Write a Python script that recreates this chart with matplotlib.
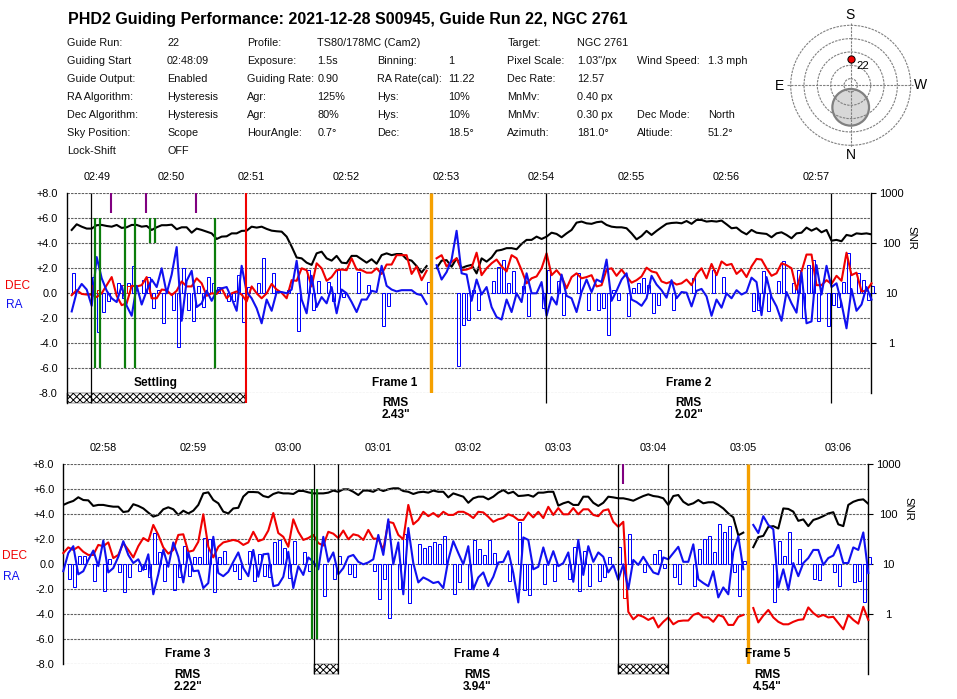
import numpy as np
import matplotlib
matplotlib.use("Agg")
import matplotlib.pyplot as plt
from matplotlib.patches import Circle, Rectangle

plt.rcParams["font.family"] = ["Liberation Sans", "DejaVu Sans"]
plt.rcParams["hatch.linewidth"] = 0.7

W, H = 957, 699
nan = float("nan")

TITLE = "PHD2 Guiding Performance: 2021-12-28 S00945, Guide Run 22, NGC 2761"

# header table, (column, text) per row
HEADER_ROWS = [
    [(0, "Guide Run:"), (1, "22"), (2, "Profile:"), (3, "TS80/178MC (Cam2)"), (6, "Target:"), (7, "NGC 2761")],
    [(0, "Guiding Start"), (1, "02:48:09"), (2, "Exposure:"), (3, "1.5s"), (4, "Binning:"), (5, "1"),
     (6, "Pixel Scale:"), (7, '1.03"/px'), (8, "Wind Speed:"), (9, "1.3 mph")],
    [(0, "Guide Output:"), (1, "Enabled"), (2, "Guiding Rate:"), (3, "0.90"), (4, "RA Rate(cal):"), (5, "11.22"),
     (6, "Dec Rate:"), (7, "12.57")],
    [(0, "RA Algorithm:"), (1, "Hysteresis"), (2, "Agr:"), (3, "125%"), (4, "Hys:"), (5, "10%"),
     (6, "MnMv:"), (7, "0.40 px")],
    [(0, "Dec Algorithm:"), (1, "Hysteresis"), (2, "Agr:"), (3, "80%"), (4, "Hys:"), (5, "10%"),
     (6, "MnMv:"), (7, "0.30 px"), (8, "Dec Mode:"), (9, "North")],
    [(0, "Sky Position:"), (1, "Scope"), (2, "HourAngle:"), (3, "0.7°"), (4, "Dec:"), (5, "18.5°"),
     (6, "Azimuth:"), (7, "181.0°"), (8, "Altiude:"), (9, "51.2°")],
    [(0, "Lock-Shift"), (1, "OFF")],
]

# sky position
AZIMUTH = 181.0
ALTITUDE = 51.2
RING_DEG = [10, 30, 50, 70, 90]
MOON_ZD = 33
MOON_RADIUS_DEG = 27.5

# top panel, one value per sample
ra_1 = [
    -1.45, 0.1, 0.75, 0.3, -1.0, 2.9, 1.2, 0.2, -0.4, -0.7,
    0.6, -1.0, -1.8, 0.6, -0.9, 0.2, 1.1, 0.5, 2.0, 0.0,
    1.5, 3.7, -2.2, 1.0, 1.8, -1.1, -0.8, 0.2, -0.6, 0.2,
    0.4, 0.5, -0.4, -1.4, 2.2, 0.1, -0.4, -1.2, -2.4, -0.5,
    -1.4, 0.1, 0.1, 0.0, 0.3, 2.6, -0.5, -1.6, 1.4, -1.1,
    -0.3, -0.8, 0.5, -1.6, 0.3, 0.0, -0.7, -1.5, -0.5, -0.5,
    0.2, 0.1, 2.2, 0.6, 0.3, 0.15, 0.25, 0.25, 0.25, -0.05,
    -0.15, -0.85, nan,
    2.25, 1.1, 1.7, 2.7, 5.0, 1.6, 1.5, -0.6, 1.1, -0.1,
    0.5, -1.1, -1.9, -2.1, -0.5, -1.5, 0.0, -0.7, 1.6, 0.0,
    0.0, 0.9, -1.8, -0.3, -0.9, 1.5, -0.2, -0.4, -1.5, 0.1,
    1.1, 0.1, 1.1, 0.9, 2.7, -0.6, 0.2, 1.1, 1.6, -0.5,
    -0.7,
    -1.0, -0.4, 1.4, 0.7, 0.25, -0.35, 1.05, -0.4, 0.1, 0.05,
    -1.05, 0.2, 0.35, -0.25, -1.8, -0.5, -1.15, 0.0, -0.4, 0.25,
    -0.1, 0.1, 1.25, 0.9, -1.75, 1.3, -0.3, -1.05, -2.2, 0.1,
    -0.8, -1.55, 1.65, -2.4, -2.25, 2.25, -0.1, 2.2, 0.5, 0.8,
    -0.8, -2.8, 0.35, -1.4, -0.9, 0.5, -0.5,
]
dec_1 = [
    -0.15, 0.25, -0.05, -0.1, -0.1, -0.3, 0.0, 0.65, 1.3, -0.2,
    -0.95, -0.8, 0.6, 0.55, 0.65, 1.3, -0.4, -0.4, 0.3, 0.25,
    -0.15, 0.2, 0.95, 0.55, 0.55, 1.2, 0.8, -0.2, 0.0, -0.05,
    0.4, -0.4, 0.0, 0.15, -0.1, -0.65, 0.55, 0.0, -0.4, 0.0,
    0.75, 0.3, 0.05, -0.4, 1.05, 1.0, 2.0, 1.85, 0.55, 2.4,
    2.0, 1.0, 1.3, 1.85, 1.9, 1.85, 2.8, 1.9, 1.85, 1.65,
    1.65, 2.0, 1.55, 2.3, 2.3, 3.05, 3.05, 3.05, 1.55, 2.15,
    1.05, 1.8, nan,
    2.8, 3.05, 2.15, 2.5, 2.8, 1.85, 1.9, 2.05, 3.25, 1.45,
    2.0, 2.4, 2.7, 2.15, 1.75, 3.05, 2.8, 1.85, 0.8, 1.2,
    1.35, 2.0, 3.2, 1.45, 1.85, 1.35, 0.4, 1.3, 1.6, 1.2,
    1.3, 1.45, 0.55, 0.65, 1.9, 2.0, 1.4, 1.9, 1.35, 0.85,
    1.05,
    1.35, 2.05, 1.75, 1.65, 0.95, 0.8, 0.95, 0.7, 0.8, 1.1,
    0.65, 1.55, 2.0, 1.2, 2.35, 1.45, 2.55, 2.25, 2.35, 1.55,
    1.9, 1.3, 2.15, 2.75, 2.7, 2.0, 1.4, 1.6, 2.4, 2.25,
    2.0, 0.3, 1.75, 3.1, 3.1, 0.65, 0.65, 1.05, 0.75, 1.4,
    1.0, 3.25, 1.45, 1.65, 0.15, 0.2, 0.8,
]
snr_1 = [
    185, 240, 215, 197, 197, 230, 233, 222, 215, 233,
    203, 209, 233, 233, 215, 222, 185, 209, 230, 230,
    236, 191, 209, 209, 163, 197, 185, 171, 158, 122,
    136, 138, 158, 158, 177, 179, 215, 206, 215, 194,
    179, 174, 171, 136, 86, 52, 50, 41, 37, 63,
    68, 50, 45, 56, 41, 40, 56, 56, 48, 41,
    48, 39, 58, 63, 58, 61, 61, 48, 45, 35,
    26, 35, nan,
    32, 45, 46, 34, 50, 32, 35, 37, 25, 50,
    43, 52, 71, 74, 80, 80, 76, 97, 117, 117,
    136, 122, 136, 163, 154, 132, 158, 185, 259, 272,
    251, 245, 264, 272, 233, 215, 209, 209, 200, 158,
    120,
    140, 177, 147, 177, 209, 245, 255, 259, 251, 279,
    245, 293, 293, 272, 279, 272, 285, 240, 200, 206,
    171, 151, 185, 163, 158, 154, 132, 158, 166, 147,
    126, 158, 163, 206, 179, 200, 166, 185, 113, 117,
    110, 147, 140, 158, 154, 158, 151,
]
ra_bar_idx_1 = [
    0, 4, 5, 6, 7, 9, 10, 11, 12, 14, 15, 16, 17, 18, 20, 21, 22, 23, 24, 25, 26, 27, 28, 29,
    31, 32, 33, 34, 35, 37, 38, 40, 43, 45, 47, 48, 49,
    51, 52, 53, 54, 57, 59, 62, 63, 71, 77, 78, 79, 80, 81, 84, 85, 86, 87, 88, 90, 91, 94, 95,
    97, 98, 101, 103, 105, 106, 107, 108, 109, 111, 112, 113,
    114, 115, 116, 117, 120, 124, 128, 130, 136, 137, 138, 139, 141, 142, 144, 145, 146, 147,
    148, 149, 151, 152, 153, 154, 155, 157, 158, 159, 160,
]
ra_bar_val_1 = [
    1.6, 1.3, -3.1, -1.5, -0.6, 0.8, -0.4, 0.8, 2.2, 1.05, 1.3, -1.2, 0.3, -2.4, -1.3, -4.3, 2.0, -1.3, -2.2, 0.6, -1.1, 1.3, 0.8, 0.5,
    -0.6, -0.6, 1.5, -2.3, 0.5, 0.8, 2.8, 1.6, 0.3, -3.05, 1.9, -1.35, 1.0,
    0.9, -0.6, 1.9, -0.3, 1.7, 0.65, -2.6, -1.05, 0.9, -5.8, -2.5, -2.1, 0.3, -1.3, 1.0, 2.1, 2.7, 0.8, 1.75, 0.6, -1.8, -1.2, 1.85,
    1.0, -1.7, 1.65, -1.35, -1.3, -1.15, -3.3, 0.25, -0.55, -1.8, 0.4, 0.8,
    1.2, 0.7, -1.55, -0.95, -1.3, 1.2, 1.9, 1.3, -1.45, -1.35, 1.75, -1.4, 0.95, 2.55, 0.8, 1.85, -2.0, 2.3,
    2.7, -2.25, -2.6, -0.95, -1.1, 0.9, 3.2, 1.6, 1.1, -0.5, 0.55,
]
dec_bar_idx_1 = [4, 5, 10, 11]
dec_bar_val_1 = [0.65, 0.3, 0.7, 0.55]

tick_idx_1 = [5, 12, 20, 29, 36, 45, 55, 64, 75, 84, 94, 102, 112, 121, 131, 140, 149, 158]
label_idx_1 = [5, 20, 36, 55, 75, 94, 112, 131, 149]
time_labels_1 = ["02:49", "02:50", "02:51", "02:52", "02:53", "02:54", "02:55", "02:56", "02:57"]

green_idx_1 = [4.67, 5.67, 10.67, 12.67, 28.67]
green_short_idx_1 = [15.67, 16.67]
purple_idx_1 = [7.87, 14.87, 24.87]
black_idx_1 = [3.9, 94.9, 151.9]
settle_1 = [(-1.0, 34.7)]
red_idx_1 = 34.87
orange_idx_1 = 71.9

# bottom panel
ra_2 = [
    -0.55, 0.9, 1.45, -0.8, -0.55, 0.35, 1.1, -0.15, 1.9, -0.65,
    -0.3, 0.6, 1.85, 0.75, 0.1, 0.4, -0.45, 0.8, -2.4, -0.8,
    1.15, -0.2, 1.75, 0.6, -1.45, 0.95, -0.55, -0.5, -1.9, -1.5,
    2.2, -0.7, -0.95, -0.6, 0.2, 0.95, -0.3, -0.95, 1.15, -1.0,
    0.8, 0.85, -1.75, -1.65, -1.0, 1.0, -1.9, -0.15, -0.85, 0.55,
    0.2, -0.4,
    2.2, 0.2, 0.95, -0.8, -0.3, 0.6, 0.75, 0.2, 0.0, 0.15,
    0.4, 2.35, 0.75, 3.6, 0.0, 1.75, -2.4, 2.9, 0.1, -1.45,
    -1.05, -1.25, -1.5, -1.4, -1.9, 0.35, 1.85, 0.9, 0.0, 1.45,
    -2.0, -1.05, -0.65, -1.75, -1.0, 0.15, 0.2, 1.05, -0.7, -3.05,
    2.15, 1.95, -0.4, -0.2, 1.35, -0.05, 1.05, -0.15, 0.1, 0.95,
    -1.4, 1.95, -0.85, 1.45, 0.2, 0.95, 0.6, -0.65, -0.05, -1.25,
    0.0, -2.0, 0.35, -0.05,
    0.6, -0.05, -0.65, -0.8, 0.55, 0.4, 0.9, 1.4, 0.2, 0.2,
    1.6, -1.2, -1.5, -1.75, -0.55, -2.65, -1.85, -2.4, 1.0, 2.25,
    -0.4, nan,
    3.15, 2.5, 3.85, 3.15, 2.8, -1.85, -0.4, -2.05, 0.1, -0.95,
    0.1, 0.5, 1.15, 1.15, -0.05, 0.5, 0.7, 1.55, 0.1, 0.1,
    1.35, 1.15, 2.55, -0.7,
]
dec_2 = [
    0.9, 1.35, 1.15, 1.4, 1.0, 0.75, 0.75, 1.55, 1.45, 1.75,
    0.5, 0.75, 1.7, 1.15, 0.55, 1.45, 2.1, 1.85, 3.15, 2.35,
    1.35, 0.85, 1.15, 2.35, 2.4, 1.0, 1.1, 1.8, 4.0, 1.4,
    0.55, 1.4, 1.75, 1.85, 1.95, 1.85, 1.55, 1.75, 2.6, 1.85,
    2.0, 2.7, 4.1, 2.5, 2.2, 1.4, 3.6, 2.6, 1.95, 2.1,
    2.35, 1.7,
    1.5, 2.6, 2.45, 2.1, 2.7, 2.0, 2.4, 2.3, 1.95, 2.75,
    2.05, 2.05, 1.15, 3.4, 3.3, 2.35, 2.0, 4.75, 3.2, 3.55,
    4.2, 3.85, 4.1, 3.8, 4.2, 3.95, 3.95, 4.2, 4.2, 4.0,
    3.7, 4.2, 4.15, 3.8, 3.4, 3.6, 3.7, 4.0, 3.85, 3.55,
    3.55, 4.15, 3.75, 4.2, 3.7, 4.6, 3.95, 4.5, 4.0, 4.0,
    4.5, 4.0, 4.4, 4.4, 3.95, 3.85, 4.3, 4.4, 3.4, 3.0,
    3.4, -3.8, -4.4, -4.05,
    -4.2, -4.45, -4.25, -5.05, -4.6, -4.25, -4.8, -4.55, -4.5, -4.5,
    -4.05, -3.9, -4.25, -4.25, -4.6, -4.05, -4.2, -4.85, -4.85, -4.2,
    -4.05, nan,
    -3.5, -4.65, -4.1, -3.65, -4.25, -4.6, -4.8, -4.8, -4.6, -4.45,
    -4.4, -3.45, -3.9, -4.2, -4.05, -4.25, -4.2, -4.7, -5.2, -4.05,
    -4.45, -4.75, -3.4, -4.45,
]
snr_2 = [
    154, 171, 185, 219, 193, 190, 147, 154, 154, 147,
    142, 142, 111, 115, 159, 147, 131, 108, 90, 97,
    126, 138, 126, 97, 118, 104, 118, 154, 262, 275,
    193, 166, 113, 104, 131, 135, 226, 279, 279, 275,
    232, 219, 255, 275, 262, 262, 255, 293, 293, 275,
    262, 262,
    262, 271, 298, 282, 316, 316, 282, 243, 298, 298,
    282, 320, 292, 316, 331, 331, 292, 282, 255, 275,
    282, 271, 298, 282, 282, 218, 262, 243, 225, 170,
    209, 225, 225, 199, 225, 271, 306, 262, 282, 232,
    236, 243, 225, 271, 271, 282, 282, 149, 166, 178,
    154, 154, 225, 225, 170, 147, 170, 225, 218, 209,
    209, 199, 187, 209,
    232, 251, 232, 225, 209, 154, 232, 243, 178, 154,
    166, 193, 166, 174, 174, 154, 131, 104, 87, 38,
    43, nan,
    22, 35, 37, 56, 58, 52, 131, 128, 113, 74,
    79, 58, 77, 83, 92, 104, 110, 63, 58, 154,
    178, 193, 199, 162,
]
ra_bar_idx_2 = [
    1, 2, 3, 4, 6, 8, 9, 11, 12, 13, 15, 16, 17, 18, 19, 20, 22, 23, 24, 25, 26, 27, 28, 29, 30,
    31, 32, 34, 35, 37, 38, 39, 40, 41, 42, 43, 44, 45, 46, 48, 49,
    52, 54, 55, 57, 58, 62, 63, 64, 65, 67, 68, 69, 71, 72, 73, 74, 75, 76, 78, 79, 81, 82, 83,
    84, 85, 86, 89, 91, 92, 93, 96, 98, 101, 102, 103, 104, 105, 107, 108, 109, 111, 113,
    116, 118, 119, 120, 122, 123, 126, 127, 128, 129, 130, 131, 132, 133, 134, 135, 136,
    142, 143, 144, 145, 147, 150, 151, 154, 155, 158, 159, 160, 161,
]
ra_bar_val_2 = [
    -1.2, -1.85, 0.65, 0.65, -1.3, -2.15, 0.4, -0.65, -2.25, -1.05, -0.5, -0.4, -1.0, 2.5, 1.0, -1.3, -2.05, -1.05, 1.45, -0.95, 0.55, 0.55, 2.1, 2.0, -2.25,
    0.6, 1.1, -0.5, -1.2, 1.05, -1.3, 0.8, -0.9, -1.05, 1.75, 1.95, 1.3, -1.1, 1.9, 0.95, -0.55,
    -2.55, -1.2, 0.7, -0.8, -1.0, -0.55, -2.8, -1.2, -4.3, -2.0, 2.4, -3.1, 1.6, 1.3, 1.5, 1.75, 1.6, 2.25, -2.35, -1.4, -1.95, 1.95, 1.2,
    0.75, 1.95, 0.9, -1.35, 3.35, -2.05, -2.45, -1.6, -1.35, -1.15, 1.35, -2.15, 1.05, -1.7, -1.3, -1.05, 0.55, 1.35, 2.4,
    -0.65, 0.8, 1.15, -0.3, -1.0, -1.6, -1.75, 1.2, 2.0, 2.3, 0.95, 3.2, 2.55, 3.05, -0.65, -2.55, 0.25,
    -3.05, 1.85, 0.7, 2.55, 1.2, -1.2, -1.25, -0.65, -1.7, -1.45, -1.35, -3.0, 0.55,
]
dec_bar_idx_2 = [112]
dec_bar_val_2 = [-2.7]

tick_idx_2 = [8, 17, 26, 35, 45, 54, 63, 72, 81, 90, 99, 108, 118, 128, 136, 146, 155]
label_idx_2 = [8, 26, 45, 63, 81, 99, 118, 136, 155]
time_labels_2 = ["02:58", "02:59", "03:00", "03:01", "03:02", "03:03", "03:04", "03:05", "03:06"]

green_idx_2 = [49.8, 50.8]
purple_idx_2 = [112.0]
black_idx_2 = [50.07, 55.0, 111.0, 121.0]
settle_2 = [(50.07, 55.0), (111.0, 121.0)]
orange_idx_2 = 137.0

Y_TICKS = [8, 6, 4, 2, 0, -2, -4, -6, -8]
SNR_TICKS = [1000, 100, 10, 1]


def axes_rect(left, top, right, bottom):
    return [left / W, 1 - bottom / H, (right - left) / W, (bottom - top) / H]


fig = plt.figure(figsize=(W / 100, H / 100), dpi=100)

# page layer in pixel coords for text and the sky chart
page = fig.add_axes([0, 0, 1, 1], zorder=5)
page.set_xlim(0, W)
page.set_ylim(H, 0)
page.axis("off")
page.patch.set_visible(False)


def draw_panel(rect, xlim, ra, dec, snr, bars, dec_bars, ticks, label_idx, labels,
               green, green_short, purple, black, settle, red_idx, orange_idx, left_long, right_long):
    ax = fig.add_axes(rect, zorder=2)
    ax.patch.set_visible(False)
    snr_ax = ax.twinx()
    snr_ax.set_zorder(1)

    ax.set_xlim(*xlim)
    ax.set_ylim(-8, 8)
    snr_ax.set_yscale("log")
    snr_ax.set_ylim(0.1, 1000)

    for y in Y_TICKS:
        ax.plot(xlim, [y, y], color="#606060", lw=0.8, dashes=(2.2, 1.0), zorder=1)

    ax.bar(np.array(bars[0]) + 0.3, bars[1], width=0.6, fill=False, edgecolor="#0000ff",
           linewidth=0.72, clip_on=False, zorder=2)
    ax.bar(np.array(dec_bars[0]) + 0.3, dec_bars[1], width=0.6, fill=False, edgecolor="#ee0000",
           linewidth=0.72, clip_on=False, zorder=2)

    ax.plot(np.arange(len(dec)), dec, color="#f00000", lw=1.5, clip_on=False, zorder=3)
    ax.plot(np.arange(len(ra)), ra, color="#1010f0", lw=1.5, clip_on=False, zorder=4)
    snr_ax.plot(np.arange(len(snr)), snr, color="black", lw=1.5, zorder=3)

    ax.vlines(black, -8.8, 8, color="black", lw=0.9, clip_on=False, zorder=5)
    ax.vlines(green, -6, 6, color="#0a7d0a", lw=1.6, zorder=5)
    if green_short:
        ax.vlines(green_short, 4, 6, color="#0a7d0a", lw=1.6, zorder=5)
    ax.vlines(purple, 6.4, 8, color="#800080", lw=1.5, zorder=5)
    if red_idx is not None:
        ax.vlines(red_idx, -8.8, 8, color="#f00000", lw=1.5, clip_on=False, zorder=6)
    ax.vlines(orange_idx, -8, 8, color="#f5a000", lw=2.4, zorder=6)

    for start, stop in settle:
        ax.add_patch(Rectangle((start, -8.8), stop - start, 0.8, facecolor="white", edgecolor="black",
                               hatch="xxxxx", linewidth=0.3, clip_on=False, zorder=2))

    ax.spines["top"].set_visible(False)
    ax.spines["bottom"].set_visible(False)
    snr_ax.spines["top"].set_visible(False)
    snr_ax.spines["bottom"].set_visible(False)
    snr_ax.spines["left"].set_visible(False)
    snr_ax.spines["right"].set_visible(False)
    ax.spines["left"].set_bounds(-8.8 if left_long else -8, 8)
    ax.spines["right"].set_bounds(-8.8 if right_long else -8, 8)
    ax.spines["left"].set_linewidth(1.0)
    ax.spines["right"].set_linewidth(1.0)

    ax.xaxis.tick_top()
    ax.set_xticks(ticks)
    ax.set_xticklabels([""] * len(ticks))
    ax.tick_params(axis="x", direction="out", length=3, width=0.8, pad=2)
    ax.set_yticks(Y_TICKS)
    ax.set_yticklabels([f"{y:+.1f}" if y != 0 else "0.0" for y in Y_TICKS], fontsize=7.8)
    ax.tick_params(axis="y", length=0, pad=6.5)
    ax.yaxis.set_ticks_position("left")

    for idx, label in zip(label_idx, labels):
        ax.annotate(label, xy=(idx, 8), xytext=(0, 11.8), textcoords="offset points",
                    ha="center", va="center", fontsize=7.8, annotation_clip=False)

    snr_ax.set_xticks([])
    snr_ax.set_yticks(SNR_TICKS)
    snr_ax.set_yticklabels([str(v) for v in SNR_TICKS], fontsize=8, ha="center")
    snr_ax.minorticks_off()
    snr_ax.tick_params(axis="y", which="major", direction="out", length=3.6, width=0.8, pad=10.8)
    return ax


draw_panel(axes_rect(66.7, 193.3, 871.5, 393.3), (-1.0, 160.0), ra_1, dec_1, snr_1,
           (ra_bar_idx_1, ra_bar_val_1), (dec_bar_idx_1, dec_bar_val_1),
           tick_idx_1, label_idx_1, time_labels_1,
           green_idx_1, green_short_idx_1, purple_idx_1, black_idx_1, settle_1,
           red_idx_1, orange_idx_1, True, False)

draw_panel(axes_rect(63.3, 464.3, 868.3, 664.3), (0.0, 161.0), ra_2, dec_2, snr_2,
           (ra_bar_idx_2, ra_bar_val_2), (dec_bar_idx_2, dec_bar_val_2),
           tick_idx_2, label_idx_2, time_labels_2,
           green_idx_2, [], purple_idx_2, black_idx_2, settle_2,
           None, orange_idx_2, False, True)

# title and header block
page.text(68, 19.5, TITLE, fontsize=11.5, fontweight="bold", va="center", ha="left")
col_x = [67.3, 167, 247.3, 317.3, 377.3, 448, 507.3, 577.3, 637.3, 707.7]
row_y = [43, 61, 79, 97, 115, 133, 151]
for y, row in zip(row_y, HEADER_ROWS):
    for col, text in row:
        page.text(col_x[col], y, text, fontsize=7.8, va="center", ha="left", color="#101010")

# side labels
for x, y, text, color in [(17.7, 285.7, "DEC", "#f00000"), (14, 305, "RA", "#1010f0"),
                          (15, 556, "DEC", "#f00000"), (11, 576.7, "RA", "#1010f0")]:
    page.text(x, y, text, color=color, fontsize=8.6, ha="center", va="center")
page.text(911, 238, "SNR", rotation=270, fontsize=8.2, ha="center", va="center")
page.text(908.7, 509, "SNR", rotation=270, fontsize=8.2, ha="center", va="center")

# frame captions
for x, y, text in [(156, 383, "Settling"), (395, 383, "Frame 1"), (688.7, 383, "Frame 2"),
                   (187.3, 654, "Frame 3"), (477, 654, "Frame 4"), (767.7, 654, "Frame 5")]:
    page.text(x, y, text, fontsize=8.6, fontweight="bold", ha="center", va="center")
for x, y, rms in [(395.7, 403, '2.43"'), (688.7, 403, '2.02"'), (187.7, 675, '2.22"'),
                  (477.3, 675, '3.94"'), (767.7, 675, '4.54"')]:
    page.text(x, y, "RMS", fontsize=8.6, fontweight="bold", ha="center", va="center")
    page.text(x, y + 12.3, rms, fontsize=8.6, fontweight="bold", ha="center", va="center")

# sky chart
cx, cy = 850.7, 85.3
px_per_deg = 60 / 90
ring_style = dict(fill=False, edgecolor="#808080", linewidth=0.8, linestyle=(0, (2.2, 1.0)), zorder=3)
page.add_patch(Circle((cx, cy + MOON_ZD * px_per_deg), MOON_RADIUS_DEG * px_per_deg,
                      facecolor="#d8d8d8", edgecolor="#808080", linewidth=1.6, zorder=2))
for deg in RING_DEG:
    page.add_patch(Circle((cx, cy), deg * px_per_deg, **ring_style))
page.plot([cx, cx], [23, 147], color="#808080", lw=0.8, dashes=(2.2, 1.0), zorder=3)
page.plot([787, 913], [cy, cy], color="#808080", lw=0.8, dashes=(2.2, 1.0), zorder=3)
zd = (90 - ALTITUDE) * px_per_deg
az_rad = np.radians(AZIMUTH - 180)
page.plot(cx + zd * np.sin(az_rad), cy - zd * np.cos(az_rad), "o", ms=5.2, mfc="#f00000", mec="black",
          mew=0.7, zorder=4)
page.text(863, 66, "22", fontsize=8.2, ha="center", va="center", zorder=4)
for x, y, text in [(849.5, 15, "S"), (850.5, 155, "N"), (779.5, 85.5, "E"), (920.5, 85, "W")]:
    page.text(x, y, text, fontsize=10, ha="center", va="center")

fig.savefig("out.png", dpi=100)
